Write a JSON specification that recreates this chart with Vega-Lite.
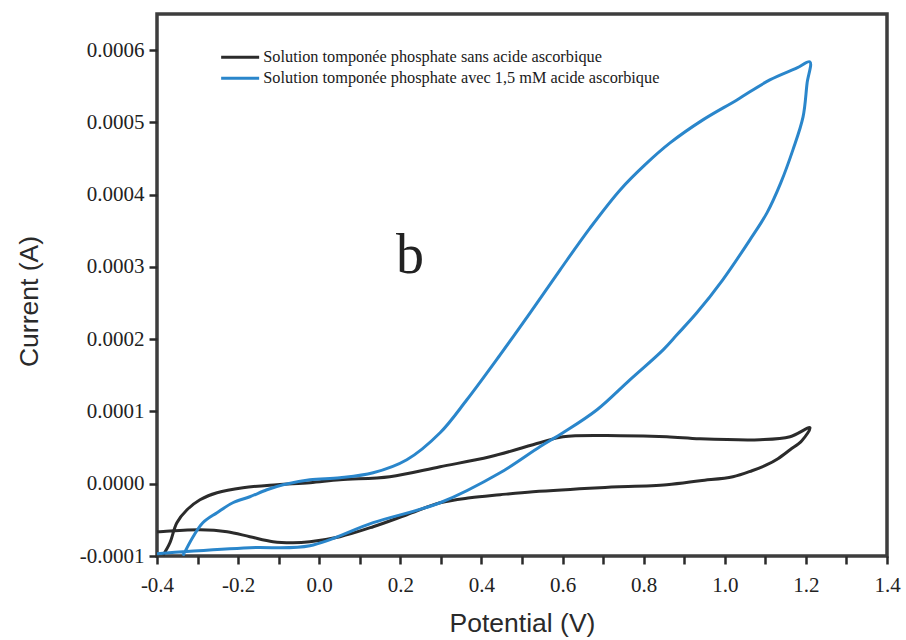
{
  "$schema": "https://vega.github.io/schema/vega-lite/v6.json",
  "width": 730,
  "height": 542,
  "autosize": {"type": "none"},
  "padding": {"left": 157, "top": 14, "right": 19, "bottom": 84},
  "background": "white",
  "datasets": {
    "cv": [
      {"s": "Solution tomponée phosphate sans acide ascorbique", "i": 1, "v": -0.385, "c": -0.0000990},
      {"s": "Solution tomponée phosphate sans acide ascorbique", "i": 2, "v": -0.368, "c": -0.0000816},
      {"s": "Solution tomponée phosphate sans acide ascorbique", "i": 3, "v": -0.351, "c": -0.0000539},
      {"s": "Solution tomponée phosphate sans acide ascorbique", "i": 4, "v": -0.326, "c": -0.0000360},
      {"s": "Solution tomponée phosphate sans acide ascorbique", "i": 5, "v": -0.294, "c": -0.0000221},
      {"s": "Solution tomponée phosphate sans acide ascorbique", "i": 6, "v": -0.252, "c": -0.0000124},
      {"s": "Solution tomponée phosphate sans acide ascorbique", "i": 7, "v": -0.188, "c": -0.0000055},
      {"s": "Solution tomponée phosphate sans acide ascorbique", "i": 8, "v": -0.104, "c": -0.0000014},
      {"s": "Solution tomponée phosphate sans acide ascorbique", "i": 9, "v": -0.023, "c": 0.0000014},
      {"s": "Solution tomponée phosphate sans acide ascorbique", "i": 10, "v": 0.051, "c": 0.0000055},
      {"s": "Solution tomponée phosphate sans acide ascorbique", "i": 11, "v": 0.174, "c": 0.0000097},
      {"s": "Solution tomponée phosphate sans acide ascorbique", "i": 12, "v": 0.298, "c": 0.0000235},
      {"s": "Solution tomponée phosphate sans acide ascorbique", "i": 13, "v": 0.421, "c": 0.0000373},
      {"s": "Solution tomponée phosphate sans acide ascorbique", "i": 14, "v": 0.544, "c": 0.0000567},
      {"s": "Solution tomponée phosphate sans acide ascorbique", "i": 15, "v": 0.601, "c": 0.0000650},
      {"s": "Solution tomponée phosphate sans acide ascorbique", "i": 16, "v": 0.742, "c": 0.0000664},
      {"s": "Solution tomponée phosphate sans acide ascorbique", "i": 17, "v": 0.857, "c": 0.0000650},
      {"s": "Solution tomponée phosphate sans acide ascorbique", "i": 18, "v": 0.939, "c": 0.0000622},
      {"s": "Solution tomponée phosphate sans acide ascorbique", "i": 19, "v": 1.087, "c": 0.0000609},
      {"s": "Solution tomponée phosphate sans acide ascorbique", "i": 20, "v": 1.161, "c": 0.0000650},
      {"s": "Solution tomponée phosphate sans acide ascorbique", "i": 21, "v": 1.210, "c": 0.0000775},
      {"s": "Solution tomponée phosphate sans acide ascorbique", "i": 22, "v": 1.190, "c": 0.0000595},
      {"s": "Solution tomponée phosphate sans acide ascorbique", "i": 23, "v": 1.161, "c": 0.0000470},
      {"s": "Solution tomponée phosphate sans acide ascorbique", "i": 24, "v": 1.131, "c": 0.0000346},
      {"s": "Solution tomponée phosphate sans acide ascorbique", "i": 25, "v": 1.104, "c": 0.0000263},
      {"s": "Solution tomponée phosphate sans acide ascorbique", "i": 26, "v": 1.067, "c": 0.0000180},
      {"s": "Solution tomponée phosphate sans acide ascorbique", "i": 27, "v": 1.020, "c": 0.0000097},
      {"s": "Solution tomponée phosphate sans acide ascorbique", "i": 28, "v": 0.939, "c": 0.0000041},
      {"s": "Solution tomponée phosphate sans acide ascorbique", "i": 29, "v": 0.857, "c": -0.0000014},
      {"s": "Solution tomponée phosphate sans acide ascorbique", "i": 30, "v": 0.692, "c": -0.0000055},
      {"s": "Solution tomponée phosphate sans acide ascorbique", "i": 31, "v": 0.527, "c": -0.0000111},
      {"s": "Solution tomponée phosphate sans acide ascorbique", "i": 32, "v": 0.446, "c": -0.0000152},
      {"s": "Solution tomponée phosphate sans acide ascorbique", "i": 33, "v": 0.372, "c": -0.0000194},
      {"s": "Solution tomponée phosphate sans acide ascorbique", "i": 34, "v": 0.298, "c": -0.0000263},
      {"s": "Solution tomponée phosphate sans acide ascorbique", "i": 35, "v": 0.216, "c": -0.0000429},
      {"s": "Solution tomponée phosphate sans acide ascorbique", "i": 36, "v": 0.133, "c": -0.0000595},
      {"s": "Solution tomponée phosphate sans acide ascorbique", "i": 37, "v": 0.051, "c": -0.0000733},
      {"s": "Solution tomponée phosphate sans acide ascorbique", "i": 38, "v": -0.023, "c": -0.0000802},
      {"s": "Solution tomponée phosphate sans acide ascorbique", "i": 39, "v": -0.065, "c": -0.0000816},
      {"s": "Solution tomponée phosphate sans acide ascorbique", "i": 40, "v": -0.114, "c": -0.0000802},
      {"s": "Solution tomponée phosphate sans acide ascorbique", "i": 41, "v": -0.171, "c": -0.0000733},
      {"s": "Solution tomponée phosphate sans acide ascorbique", "i": 42, "v": -0.227, "c": -0.0000664},
      {"s": "Solution tomponée phosphate sans acide ascorbique", "i": 43, "v": -0.294, "c": -0.0000636},
      {"s": "Solution tomponée phosphate sans acide ascorbique", "i": 44, "v": -0.393, "c": -0.0000664},
      {"s": "Solution tomponée phosphate sans acide ascorbique", "i": 45, "v": -0.400, "c": -0.0000664},

      {"s": "Solution tomponée phosphate avec 1,5 mM acide ascorbique", "i": 1, "v": -0.336, "c": -0.0000996},
      {"s": "Solution tomponée phosphate avec 1,5 mM acide ascorbique", "i": 2, "v": -0.311, "c": -0.0000733},
      {"s": "Solution tomponée phosphate avec 1,5 mM acide ascorbique", "i": 3, "v": -0.287, "c": -0.0000539},
      {"s": "Solution tomponée phosphate avec 1,5 mM acide ascorbique", "i": 4, "v": -0.252, "c": -0.0000401},
      {"s": "Solution tomponée phosphate avec 1,5 mM acide ascorbique", "i": 5, "v": -0.213, "c": -0.0000263},
      {"s": "Solution tomponée phosphate avec 1,5 mM acide ascorbique", "i": 6, "v": -0.171, "c": -0.0000180},
      {"s": "Solution tomponée phosphate avec 1,5 mM acide ascorbique", "i": 7, "v": -0.129, "c": -0.0000083},
      {"s": "Solution tomponée phosphate avec 1,5 mM acide ascorbique", "i": 8, "v": -0.089, "c": -0.0000014},
      {"s": "Solution tomponée phosphate avec 1,5 mM acide ascorbique", "i": 9, "v": -0.023, "c": 0.0000055},
      {"s": "Solution tomponée phosphate avec 1,5 mM acide ascorbique", "i": 10, "v": 0.051, "c": 0.0000083},
      {"s": "Solution tomponée phosphate avec 1,5 mM acide ascorbique", "i": 11, "v": 0.133, "c": 0.0000152},
      {"s": "Solution tomponée phosphate avec 1,5 mM acide ascorbique", "i": 12, "v": 0.216, "c": 0.0000332},
      {"s": "Solution tomponée phosphate avec 1,5 mM acide ascorbique", "i": 13, "v": 0.298, "c": 0.0000705},
      {"s": "Solution tomponée phosphate avec 1,5 mM acide ascorbique", "i": 14, "v": 0.364, "c": 0.0001162},
      {"s": "Solution tomponée phosphate avec 1,5 mM acide ascorbique", "i": 15, "v": 0.446, "c": 0.0001784},
      {"s": "Solution tomponée phosphate avec 1,5 mM acide ascorbique", "i": 16, "v": 0.520, "c": 0.0002365},
      {"s": "Solution tomponée phosphate avec 1,5 mM acide ascorbique", "i": 17, "v": 0.594, "c": 0.0002960},
      {"s": "Solution tomponée phosphate avec 1,5 mM acide ascorbique", "i": 18, "v": 0.668, "c": 0.0003541},
      {"s": "Solution tomponée phosphate avec 1,5 mM acide ascorbique", "i": 19, "v": 0.742, "c": 0.0004066},
      {"s": "Solution tomponée phosphate avec 1,5 mM acide ascorbique", "i": 20, "v": 0.803, "c": 0.0004412},
      {"s": "Solution tomponée phosphate avec 1,5 mM acide ascorbique", "i": 21, "v": 0.865, "c": 0.0004716},
      {"s": "Solution tomponée phosphate avec 1,5 mM acide ascorbique", "i": 22, "v": 0.946, "c": 0.0005035},
      {"s": "Solution tomponée phosphate avec 1,5 mM acide ascorbique", "i": 23, "v": 1.030, "c": 0.0005311},
      {"s": "Solution tomponée phosphate avec 1,5 mM acide ascorbique", "i": 24, "v": 1.111, "c": 0.0005588},
      {"s": "Solution tomponée phosphate avec 1,5 mM acide ascorbique", "i": 25, "v": 1.178, "c": 0.0005754},
      {"s": "Solution tomponée phosphate avec 1,5 mM acide ascorbique", "i": 26, "v": 1.210, "c": 0.0005837},
      {"s": "Solution tomponée phosphate avec 1,5 mM acide ascorbique", "i": 27, "v": 1.203, "c": 0.0005546},
      {"s": "Solution tomponée phosphate avec 1,5 mM acide ascorbique", "i": 28, "v": 1.193, "c": 0.0005076},
      {"s": "Solution tomponée phosphate avec 1,5 mM acide ascorbique", "i": 29, "v": 1.168, "c": 0.0004620},
      {"s": "Solution tomponée phosphate avec 1,5 mM acide ascorbique", "i": 30, "v": 1.138, "c": 0.0004163},
      {"s": "Solution tomponée phosphate avec 1,5 mM acide ascorbique", "i": 31, "v": 1.104, "c": 0.0003748},
      {"s": "Solution tomponée phosphate avec 1,5 mM acide ascorbique", "i": 32, "v": 1.062, "c": 0.0003375},
      {"s": "Solution tomponée phosphate avec 1,5 mM acide ascorbique", "i": 33, "v": 0.995, "c": 0.0002822},
      {"s": "Solution tomponée phosphate avec 1,5 mM acide ascorbique", "i": 34, "v": 0.931, "c": 0.0002365},
      {"s": "Solution tomponée phosphate avec 1,5 mM acide ascorbique", "i": 35, "v": 0.882, "c": 0.0002061},
      {"s": "Solution tomponée phosphate avec 1,5 mM acide ascorbique", "i": 36, "v": 0.848, "c": 0.0001853},
      {"s": "Solution tomponée phosphate avec 1,5 mM acide ascorbique", "i": 37, "v": 0.766, "c": 0.0001438},
      {"s": "Solution tomponée phosphate avec 1,5 mM acide ascorbique", "i": 38, "v": 0.685, "c": 0.0001024},
      {"s": "Solution tomponée phosphate avec 1,5 mM acide ascorbique", "i": 39, "v": 0.601, "c": 0.0000705},
      {"s": "Solution tomponée phosphate avec 1,5 mM acide ascorbique", "i": 40, "v": 0.544, "c": 0.0000512},
      {"s": "Solution tomponée phosphate avec 1,5 mM acide ascorbique", "i": 41, "v": 0.446, "c": 0.0000152},
      {"s": "Solution tomponée phosphate avec 1,5 mM acide ascorbique", "i": 42, "v": 0.298, "c": -0.0000263},
      {"s": "Solution tomponée phosphate avec 1,5 mM acide ascorbique", "i": 43, "v": 0.133, "c": -0.0000539},
      {"s": "Solution tomponée phosphate avec 1,5 mM acide ascorbique", "i": 44, "v": -0.023, "c": -0.0000858},
      {"s": "Solution tomponée phosphate avec 1,5 mM acide ascorbique", "i": 45, "v": -0.171, "c": -0.0000885},
      {"s": "Solution tomponée phosphate avec 1,5 mM acide ascorbique", "i": 46, "v": -0.336, "c": -0.0000941},
      {"s": "Solution tomponée phosphate avec 1,5 mM acide ascorbique", "i": 47, "v": -0.400, "c": -0.0000968}
    ],
    "panel": [{"tag": "b"}]
  },
  "layer": [
    {
      "data": {"name": "cv"},
      "mark": {"type": "line", "strokeWidth": 3, "interpolate": "catmull-rom", "clip": true},
      "encoding": {
        "x": {
          "field": "v", "type": "quantitative",
          "scale": {"domain": [-0.4, 1.4], "nice": false, "zero": false},
          "axis": {
            "title": "Potential (V)",
            "values": [-0.4, -0.3, -0.2, -0.1, 0, 0.1, 0.2, 0.3, 0.4, 0.5, 0.6, 0.7, 0.8, 0.9, 1.0, 1.1, 1.2, 1.3, 1.4],
            "labelExpr": "abs(round(datum.value*10))%2==0 ? replace(format(datum.value,'.1f'),'\u2212','-') : ''",
            "ticks": true,
            "tickSize": 8,
            "tickWidth": 2.5,
            "tickColor": "#2a2a2a",
            "encode": {"ticks": {"update": {"strokeDash": {"signal": "abs(round(datum.value*10))%2==0 ? [10, 0] : [5, 20]"}}}},
            "labelFont": "Liberation Serif", "labelFontSize": 21, "labelColor": "#222222",
            "labelPadding": 10,
            "titleFont": "Liberation Sans", "titleFontSize": 26.5, "titleFontWeight": "normal", "titleColor": "#2a2a2a",
            "titleY": 54
          }
        },
        "y": {
          "field": "c", "type": "quantitative",
          "scale": {"domain": [-0.0001, 0.00065], "nice": false, "zero": false},
          "axis": {
            "title": "Current (A)",
            "values": [-0.0001, -0.00005, 0, 0.00005, 0.0001, 0.00015, 0.0002, 0.00025, 0.0003, 0.00035, 0.0004, 0.00045, 0.0005, 0.00055, 0.0006],
            "labelExpr": "abs(round(datum.value*20000))%2==0 ? replace(format(datum.value,'.4f'),'\u2212','-') : ''",
            "ticks": true,
            "tickSize": 8,
            "tickWidth": 2.5,
            "tickColor": "#2a2a2a",
            "encode": {"ticks": {"update": {"strokeDash": {"signal": "abs(round(datum.value*20000))%2==0 ? [10, 0] : [5, 20]"}}}},
            "labelFont": "Liberation Serif", "labelFontSize": 21, "labelColor": "#222222",
            "labelPadding": 5,
            "titleFont": "Liberation Sans", "titleFontSize": 26.5, "titleFontWeight": "normal", "titleColor": "#2a2a2a",
            "titleX": -114,
            "titleY": 287
          }
        },
        "color": {
          "field": "s", "type": "nominal",
          "scale": {
            "domain": ["Solution tomponée phosphate sans acide ascorbique", "Solution tomponée phosphate avec 1,5 mM acide ascorbique"],
            "range": ["#2b2b2b", "#2a86cb"]
          },
          "legend": {
            "orient": "none", "legendX": 89, "legendY": 35, "title": null,
            "symbolType": "M-6.6,0H1", "symbolSize": 100, "symbolStrokeWidth": 3,
            "labelFont": "Liberation Serif", "labelFontSize": 16.3, "labelColor": "#1a1a1a",
            "labelOffset": 1, "rowPadding": 4, "padding": 0, "labelLimit": 600
          }
        },
        "detail": {"field": "s"},
        "order": {"field": "i", "type": "quantitative"}
      }
    },
    {
      "data": {"name": "panel"},
      "mark": {"type": "text", "font": "Liberation Serif", "fontSize": 56, "align": "center", "baseline": "alphabetic", "color": "#222222"},
      "encoding": {
        "x": {"datum": 0.224, "type": "quantitative"},
        "y": {"datum": 0.000292, "type": "quantitative"},
        "text": {"field": "tag"}
      }
    }
  ],
  "config": {
    "view": {"stroke": "#3d3d3d", "strokeWidth": 3.5},
    "axis": {
      "domain": false, "grid": false,
      "labelFlush": false, "labelOverlap": false
    }
  }
}
